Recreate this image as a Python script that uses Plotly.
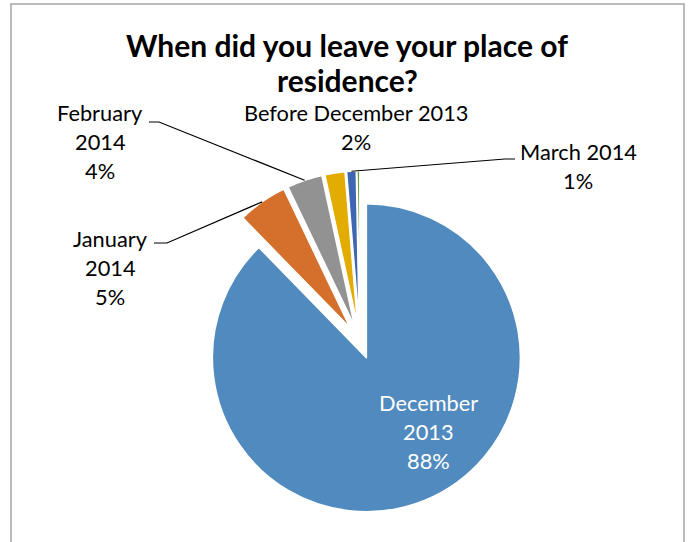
import math
import plotly.graph_objects as go

# Survey answers: when respondents left their place of residence (share of answers)
categories = ["December 2013", "January 2014", "February 2014",
              "Before December 2013", "March 2014", "Other"]
shares = [87.7, 5.2, 3.7, 2.1, 1.0, 0.3]
colors = ["#508ABE", "#D46F2C", "#929292", "#E2AC00", "#3E66B1", "#6AA13F"]

W, H = 689, 542
PULL = 0.11
FONT = "Lato, Carlito, Calibri, sans-serif"
LABEL_SIZE = 21.8

# pie box in pixels (centre and outer radius of the unpulled disc)
cx, cy, r = 360, 342, 154
box = r * (1 + PULL)


def px(x):
    return x / W


def py(y):
    return 1 - y / H


fig = go.Figure(go.Pie(
    labels=categories,
    values=shares,
    sort=False,
    direction="clockwise",
    rotation=0,
    pull=[PULL] * len(shares),
    marker=dict(colors=colors, line=dict(color="white", width=1.5)),
    textinfo="none",
    hoverinfo="label+percent",
    showlegend=False,
    domain=dict(x=[px(cx - box), px(cx + box)], y=[py(cy + box), py(cy - box)]),
))

total = sum(shares)


def pct(i):
    return f"{round(shares[i] / total * 100)}%"


def slice_edge(i):
    """Point on the outer arc of slice i, along its bisector (pixels)."""
    start = sum(shares[:i]) / total * 360
    mid = math.radians(start + shares[i] / total * 180)
    return cx + box * math.sin(mid), cy - box * math.cos(mid)


annotations = []
shapes = []


def add_lines(lines, x, y0, step, color="#000000", size=LABEL_SIZE):
    for k, t in enumerate(lines):
        annotations.append(dict(
            text=t, x=px(x), y=py(y0 + k * step), xref="paper", yref="paper",
            xanchor="center", yanchor="middle", showarrow=False,
            font=dict(family=FONT, size=size, color=color)))


# title
for k, t in enumerate(["When did you leave your place of", "residence?"]):
    annotations.append(dict(
        text=f"<b>{t}</b>", x=px(347), y=py(45 + k * 35), xref="paper", yref="paper",
        xanchor="center", yanchor="middle", showarrow=False,
        font=dict(family=FONT, size=30, color="#000000")))

# slice labels
add_lines(["February", "2014", pct(2)], 100, 112.5, 29)
add_lines(["January", "2014", pct(1)], 110, 238.5, 29)
add_lines(["Before December 2013", pct(3)], 356, 112.5, 29)
add_lines(["March 2014", pct(4)], 578, 151.5, 29)
add_lines(["December", "2013", pct(0)], 428, 402.5, 29, color="#FFFFFF")


# leader lines from label to slice
def leader(i, p0, p1):
    ex, ey = slice_edge(i)
    path = f"M {px(p0[0])},{py(p0[1])} L {px(p1[0])},{py(p1[1])} L {px(ex)},{py(ey)}"
    shapes.append(dict(type="path", path=path, xref="paper", yref="paper",
                       line=dict(color="#000000", width=1.2)))


leader(2, (149, 122), (159, 122))
leader(1, (154, 243), (167, 243))
leader(4, (515, 159), (505, 159))

# chart frame
shapes.append(dict(type="rect", xref="paper", yref="paper",
                   x0=px(11), x1=px(684), y0=py(560), y1=py(4),
                   line=dict(color="#A6A6A6", width=1.5)))

fig.update_layout(
    width=W, height=H,
    margin=dict(l=0, r=0, t=0, b=0),
    paper_bgcolor="white",
    annotations=annotations,
    shapes=shapes,
)

fig.write_html("out.html")
